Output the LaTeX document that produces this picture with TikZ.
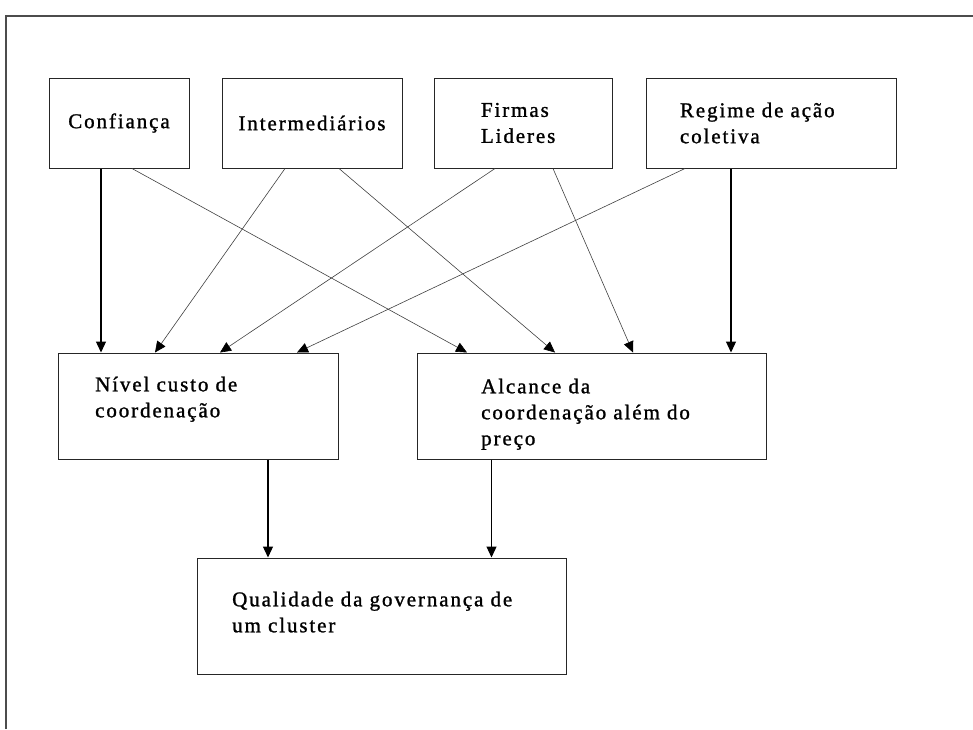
\documentclass[tikz,border=0pt]{standalone}
\usepackage{fontspec}
\setmainfont{Liberation Serif}[LetterSpace=9,FakeBold=1.2]
\usetikzlibrary{arrows.meta}

\begin{document}
\begin{tikzpicture}
        [x=1pt,y=-1pt,
        caixa/.style={draw=black!85,line width=1pt,inner sep=0pt,font=\fontsize{21}{26}\selectfont},
        rotulo/.style={anchor=north west,inner sep=0pt,align=left,font=\fontsize{21}{26}\selectfont},
        seta/.style={draw=black!75,line width=0.6pt,-{Triangle[length=11pt,width=10pt,color=black]}},
        setaforte/.style={draw=black,line width=1.2pt,-{Triangle[length=11pt,width=10pt]}}]

        \useasboundingbox (0,0) rectangle (973,729);
        \draw[black!70,line width=1.3pt] (6,729) -- (6,16) -- (973,16);

        % fatores
        \node[caixa,minimum width=140pt,minimum height=90pt] (conf) at (119,123) {Confiança};
        \node[caixa,minimum width=180pt,minimum height=90pt] (inter) at (312,123) {Intermediários};
        \node[caixa,minimum height=90pt,text width=84pt,inner xsep=47pt,align=left] (firmas) at (523,123) {Firmas\\Lideres};
        \node[caixa,minimum height=90pt,text width=182pt,inner xsep=34pt,align=left] (regime) at (771,123) {Regime de ação\\coletiva};

        % coordenacao
        \node[caixa,minimum width=280pt,minimum height=106pt] (nivel) at (198,406) {};
        \node[caixa,minimum width=349pt,minimum height=106pt] (alcance) at (591.5,406) {};
        \node[rotulo] (tnivel) at (95,376.5) {Nível custo de\\coordenação};
        \node[rotulo] (talcance) at (481,378.5) {Alcance da\\coordenação além do\\preço};

        % governanca
        \node[caixa,minimum width=369pt,minimum height=116pt] (qual) at (381.5,616) {};
        \node[rotulo] (tqual) at (232,591.5) {Qualidade da governança de\\um cluster};

        \draw[setaforte] ([xshift=-18pt]conf.south) -- ([xshift=-97pt]nivel.north);
        \draw[seta] ([xshift=13pt]conf.south) -- ([xshift=-124.5pt]alcance.north);
        \draw[seta] ([xshift=-27pt]inter.south) -- ([xshift=-43pt]nivel.north);
        \draw[seta] ([xshift=27pt]inter.south) -- ([xshift=-36.5pt]alcance.north);
        \draw[seta] ([xshift=-28pt]firmas.south) -- ([xshift=22pt]nivel.north);
        \draw[seta] ([xshift=30pt]firmas.south) -- ([xshift=41.5pt]alcance.north);
        \draw[seta] ([xshift=-86pt]regime.south) -- ([xshift=99pt]nivel.north);
        \draw[setaforte] ([xshift=-40pt]regime.south) -- ([xshift=139.5pt]alcance.north);

        \draw[setaforte] ([xshift=70pt]nivel.south) -- ([xshift=-113.5pt]qual.north);
        \draw[setaforte] ([xshift=-100pt]alcance.south) -- ([xshift=-100pt]alcance.south |- qual.north);
      \end{tikzpicture}
\end{document}
